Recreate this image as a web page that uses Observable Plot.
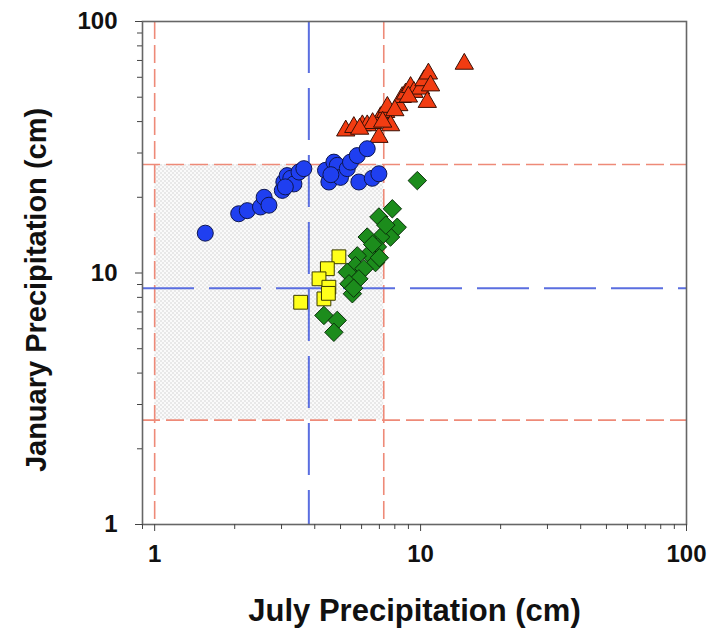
<!DOCTYPE html>
<html><head><meta charset="utf-8">
<script src="https://cdn.jsdelivr.net/npm/d3@7"></script>
<script src="https://cdn.jsdelivr.net/npm/@observablehq/plot@0.6"></script>
<style>body{margin:0;background:#fff;}</style>
</head><body><div id="chart"></div>
<script>
// ---- data ----
const blueX = [1.55, 2.07, 2.23, 2.50, 2.58, 2.69, 3.02, 3.06, 3.15, 3.25, 3.34, 3.49, 3.64, 4.39, 4.52, 4.72, 4.86, 5.00, 5.30, 5.45, 5.78, 5.86, 6.30, 6.58, 6.97, 3.10, 4.60];
const blueY = [14.4, 17.2, 17.7, 18.3, 20.0, 18.6, 21.3, 23.0, 24.4, 23.8, 22.6, 25.2, 26.0, 25.6, 23.0, 27.6, 26.8, 24.0, 26.0, 27.6, 29.3, 23.0, 31.2, 23.8, 24.8, 22.0, 24.6];
const redX = [5.23, 5.61, 6.04, 6.30, 6.97, 7.07, 7.39, 7.71, 7.50, 8.28, 8.53, 8.78, 9.17, 9.44, 10.0, 10.3, 10.6, 10.7, 10.9, 14.6, 6.6, 5.9, 8.0, 9.0, 7.2];
const redY = [36.8, 38.0, 38.6, 38.6, 34.7, 41.6, 43.6, 38.6, 45.7, 46.4, 50.0, 51.6, 54.8, 52.4, 54.0, 58.3, 47.8, 62.0, 55.6, 67.8, 39.4, 37.4, 44.3, 50.2, 39.9];
const greenX = [9.72, 7.83, 6.97, 8.17, 7.71, 7.07, 6.30, 6.88, 6.39, 5.78, 6.77, 5.69, 6.12, 5.30, 5.86, 5.38, 5.54, 4.33, 4.86, 4.72, 7.40, 6.60, 7.00, 5.60];
const greenY = [23.3, 18.0, 16.7, 15.2, 13.9, 13.9, 13.9, 12.7, 11.9, 11.7, 11.0, 10.7, 10.4, 10.07, 9.48, 9.06, 8.27, 6.78, 6.48, 5.81, 15.5, 13.0, 11.5, 8.7];
const yellowX = [4.93, 4.46, 4.15, 4.52, 4.33, 3.54, 4.50];
const yellowY = [11.6, 10.4, 9.48, 8.78, 7.89, 7.65, 8.30];

const redRefX = [1, 7.27];     // red dashed verticals
const redRefY = [2.6, 27];     // red dashed horizontals
const blueRefX = [3.8];        // blue long-dashed vertical
const blueRefY = [8.7];        // blue long-dashed horizontal

const majorTicks = [1, 10, 100];
const minorTicksX = [0.9, 2, 3, 4, 5, 6, 7, 8, 9, 20, 30, 40, 50, 60, 70, 80, 90];
const minorTicksY = [2, 3, 4, 5, 6, 7, 8, 9, 20, 30, 40, 50, 60, 70, 80, 90];
const xTitle = "July Precipitation (cm)";
const yTitle = "January Precipitation (cm)";

const toRows = (xs, ys) => xs.map((x, i) => ({x, y: ys[i]}));
const blue = toRows(blueX, blueY);
const red = toRows(redX, redY);
const green = toRows(greenX, greenY);
const yellow = toRows(yellowX, yellowY);
const shade = [{x1: redRefX[0], x2: redRefX[1], y1: redRefY[0], y2: redRefY[1]}];

const font = "'Liberation Sans', Arial, sans-serif";
const chart = Plot.plot({
  width: 719, height: 642,
  marginLeft: 142, marginRight: 33, marginTop: 21, marginBottom: 118,
  x: {type: "log", domain: [0.9, 100], label: null},
  y: {type: "log", domain: [1, 100], label: null},
  style: {fontFamily: font, fontWeight: "bold", background: "white", color: "#111"},
  marks: [
    Plot.rect(shade, {x1: "x1", x2: "x2", y1: "y1", y2: "y2", fill: "url(#chk)"}),
    Plot.ruleX(redRefX, {stroke: "#ee8a78", strokeWidth: 1.6, strokeDasharray: "18,6"}),
    Plot.ruleY(redRefY, {stroke: "#ee8a78", strokeWidth: 1.6, strokeDasharray: "18,6"}),
    Plot.ruleX(blueRefX, {stroke: "#5a6ee0", strokeWidth: 2, strokeDasharray: "52,15"}),
    Plot.ruleY(blueRefY, {stroke: "#5a6ee0", strokeWidth: 2, strokeDasharray: "52,15"}),
    Plot.frame({stroke: "#666", strokeWidth: 1.6}),
    Plot.axisX(minorTicksX, {tickSize: 5, tickFormat: () => "", stroke: "#444", label: null}),
    Plot.axisY(minorTicksY, {tickSize: 5, tickFormat: () => "", stroke: "#444", label: null}),
    Plot.axisX(majorTicks, {tickSize: 7, tickPadding: 13, tickFormat: d => String(d), fontSize: 24, fontWeight: "bold", stroke: "#444", fill: "#111", label: null}),
    Plot.axisY(majorTicks, {tickSize: 7, tickPadding: 18, tickFormat: d => String(d), fontSize: 24, fontWeight: "bold", stroke: "#444", fill: "#111", label: null}),
    Plot.dot(red, {x: "x", y: "y", symbol: "triangle", r: 6.8, fill: "#f23c12", stroke: "#3a1005", strokeWidth: 1}),
    Plot.dot(blue, {x: "x", y: "y", symbol: "circle", r: 8, fill: "#1f3ff0", stroke: "#0d1650", strokeWidth: 1}),
    Plot.dot(yellow, {x: "x", y: "y", symbol: "square", r: 7.8, fill: "#ffff1a", stroke: "#3a3a00", strokeWidth: 1}),
    Plot.dot(green, {x: "x", y: "y", symbol: "diamond2", r: 8.3, fill: "#1c8c1c", stroke: "#0a300a", strokeWidth: 1}),
    Plot.text([xTitle], {text: d => d, frameAnchor: "bottom", dy: 96, fontSize: 31, fontWeight: "bold", fill: "#111"}),
    Plot.text([yTitle], {text: d => d, frameAnchor: "left", textAnchor: "middle", rotate: -90, dx: -106, dy: 17, fontSize: 29, fontWeight: "bold", fill: "#111"})
  ]
});
const defs = document.createElementNS("http://www.w3.org/2000/svg", "defs");
defs.innerHTML = '<pattern id="chk" width="4" height="4" patternUnits="userSpaceOnUse"><rect width="4" height="4" fill="#fafafa"/><rect width="2" height="2" fill="#e8e8e8"/><rect x="2" y="2" width="2" height="2" fill="#e8e8e8"/></pattern>';
chart.insertBefore(defs, chart.firstChild);
document.getElementById("chart").appendChild(chart);
</script>
</body></html>
